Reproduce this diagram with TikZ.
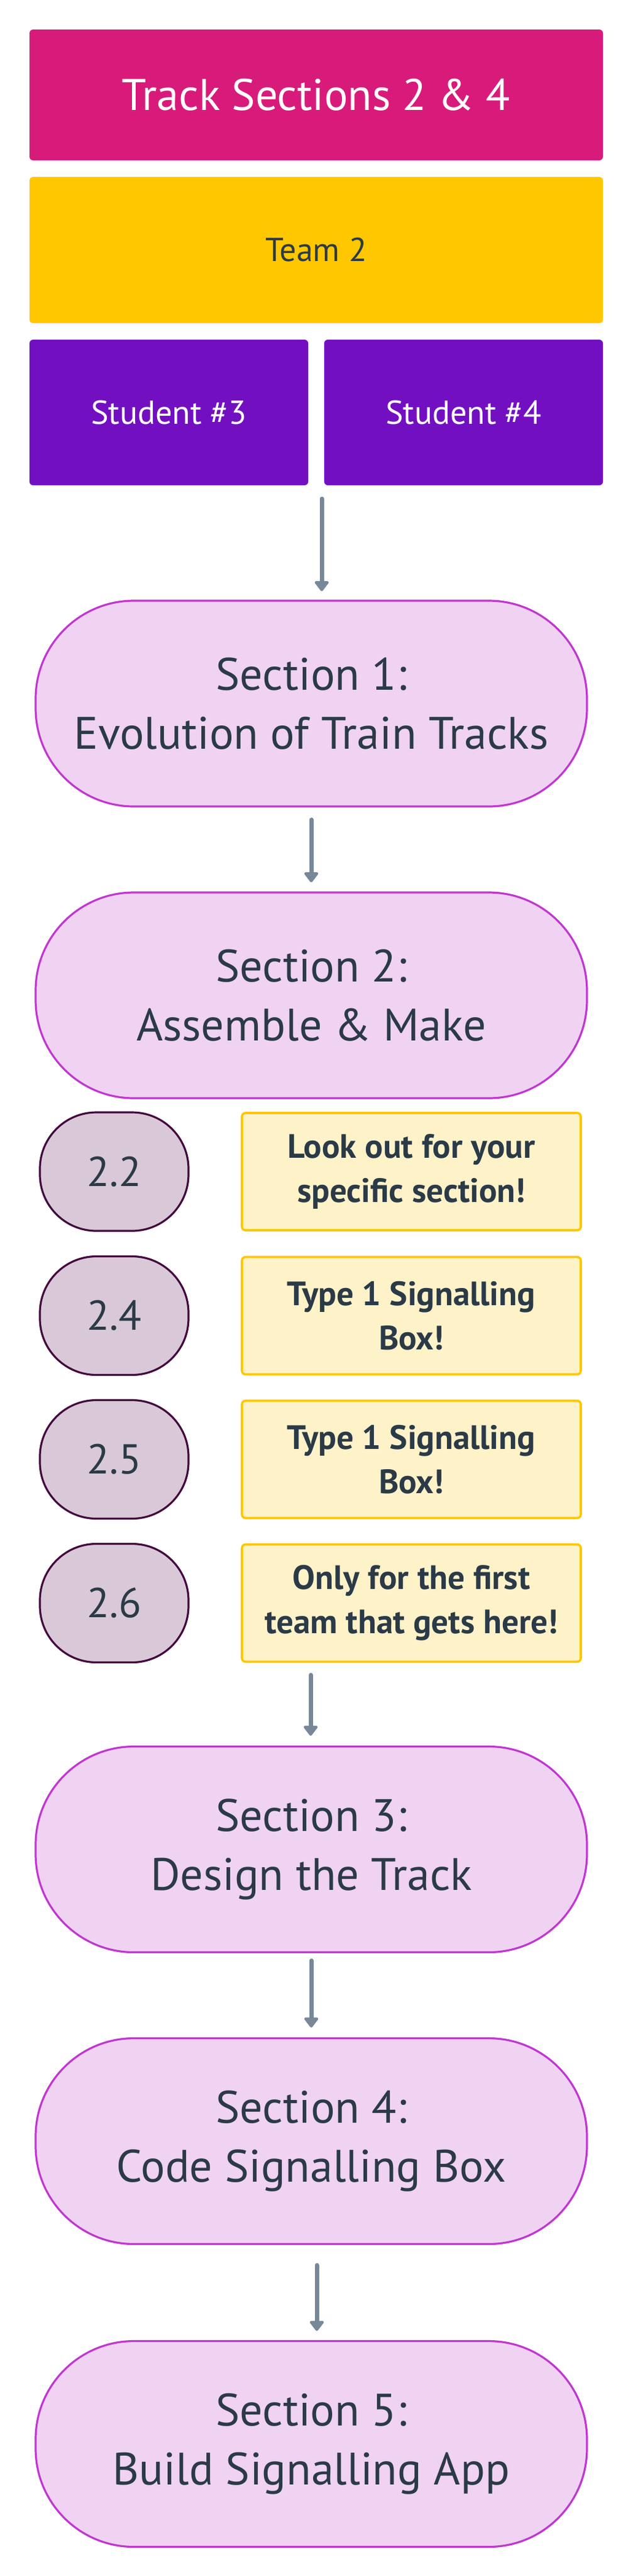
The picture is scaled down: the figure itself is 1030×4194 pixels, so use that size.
\documentclass[tikz,border=0pt]{standalone}
\usepackage{fontspec}
\setmainfont{PT Sans}
\usetikzlibrary{arrows.meta,shadows}
\definecolor{titlec}{HTML}{D81B7A}
\definecolor{teamc}{HTML}{FFC700}
\definecolor{studc}{HTML}{7210C1}
\definecolor{ink}{HTML}{2B3A47}
\definecolor{secfill}{HTML}{F0D2F3}
\definecolor{secdraw}{HTML}{C037D0}
\definecolor{ovfill}{HTML}{D9C9D8}
\definecolor{ovdraw}{HTML}{430A3E}
\definecolor{notefill}{HTML}{FEF2C9}
\definecolor{notedraw}{HTML}{FFC700}
\definecolor{arrowc}{HTML}{778899}
\begin{document}
\begin{tikzpicture}[x=0.5pt,y=-0.5pt,
  hdr/.style={rectangle, rounded corners=3pt, inner sep=0pt, align=center,
    drop shadow={opacity=0.08, shadow xshift=0pt, shadow yshift=-1.5pt}},
  titlebox/.style={hdr, fill=titlec, text=white, minimum width=467pt, minimum height=106.5pt,
    font=\fontsize{36pt}{42pt}\selectfont},
  teambox/.style={hdr, fill=teamc, text=ink, minimum width=467pt, minimum height=119pt,
    font=\fontsize{27pt}{32pt}\selectfont},
  studbox/.style={hdr, fill=studc, text=white, minimum width=227pt, minimum height=118.5pt,
    font=\fontsize{27pt}{32pt}\selectfont},
  secbox/.style={rectangle, rounded corners=80pt, draw=secdraw, line width=1.6pt, fill=secfill,
    text=ink, minimum width=449pt, minimum height=167.5pt, align=center, inner sep=0pt,
    font=\fontsize{37pt}{48pt}\selectfont},
  ovbox/.style={rectangle, rounded corners=46pt, draw=ovdraw, line width=1.6pt, fill=ovfill,
    text=ink, minimum width=121pt, minimum height=96.5pt, inner sep=0pt,
    font=\fontsize{34pt}{40pt}\selectfont},
  notebox/.style={rectangle, rounded corners=3pt, draw=notedraw, line width=1.8pt, fill=notefill,
    text=ink, minimum width=276pt, minimum height=95.5pt, align=center, inner sep=0pt,
    font=\bfseries\fontsize{27.5pt}{36pt}\selectfont},
  arr/.style={draw=arrowc, line width=3.5pt, line cap=round,
    -{Triangle[width=13pt,length=9pt,round]}, fill=arrowc}
]
\useasboundingbox (0,0) rectangle (1030,4194);
\fill[white] (0,0) rectangle (1030,4194);

\node[titlebox] (title) at (515,154.5) {Track Sections 2 \& 4};
\node[teambox] (team) at (515,407) {Team 2};
\node[studbox] (stu3) at (275,671.5) {Student \#3};
\node[studbox] (stu4) at (755,671.5) {Student \#4};

\node[secbox] (sec1) at (507,1145.5) {Section 1:\\Evolution of Train Tracks};
\node[secbox] (sec2) at (507,1620.5) {Section 2:\\Assemble \& Make};

\node[ovbox] (o22) at (186,1907.5) {2.2};
\node[ovbox] (o24) at (186,2142) {2.4};
\node[ovbox] (o25) at (186,2376) {2.5};
\node[ovbox] (o26) at (186,2610) {2.6};

\node[notebox] (n22) at (670,1907.5) {Look out for your\\specific section!};
\node[notebox] (n24) at (670,2142) {Type 1 Signalling\\Box!};
\node[notebox] (n25) at (670,2376) {Type 1 Signalling\\Box!};
\node[notebox] (n26) at (670,2610) {Only for the first\\team that gets here!};

\node[secbox] (sec3) at (507,3011) {Section 3:\\Design the Track};
\node[secbox] (sec4) at (507,3486) {Section 4:\\Code Signalling Box};
\node[secbox] (sec5) at (507,3979) {Section 5:\\Build Signalling App};

\coordinate (c1) at (524,812);
\coordinate (c3) at (506,2727);
\coordinate (c5) at (516,3688);

\draw[arr, shorten >=7pt] (c1) -- (c1 |- sec1.north);
\draw[arr, shorten <=10pt, shorten >=7.5pt] (sec1.south) -- (sec2.north);
\draw[arr, shorten >=8pt] (c3) -- (c3 |- sec3.north);
\draw[arr, shorten <=6pt, shorten >=8pt] (sec3.south) -- (sec4.north);
\draw[arr, shorten >=7.5pt] (c5) -- (c5 |- sec5.north);
\end{tikzpicture}
\end{document}
